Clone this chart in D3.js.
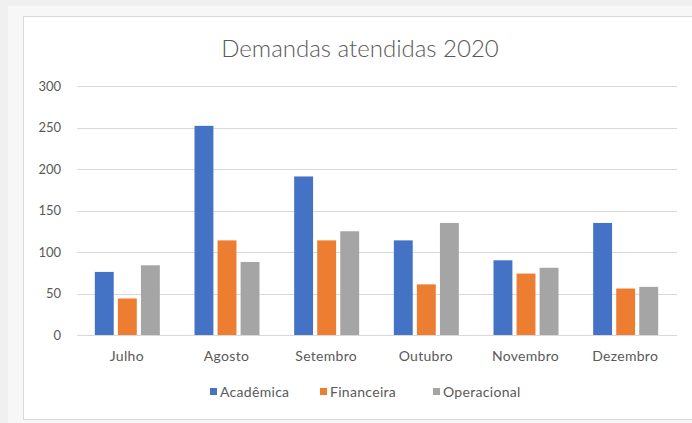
<!DOCTYPE html>
<html><head><meta charset="utf-8">
<script src="https://cdn.jsdelivr.net/npm/d3@7"></script>
<style>
html,body{margin:0;padding:0;background:#f0f0f0;}
svg{display:block;}
text{font-family:Lato, "Open Sans", sans-serif;fill:#595959;}
</style></head>
<body>
<svg id="c" width="692" height="423"></svg>
<script>
const categories = ["Julho","Agosto","Setembro","Outubro","Novembro","Dezembro"];
const seriesNames = ["Acadêmica","Financeira","Operacional"];
const academica = [76, 252, 191, 114, 90, 135];
const financeira = [44, 114, 114, 61, 74, 56];
const operacional = [84, 88, 125, 135, 81, 58];
const yTicks = [0, 50, 100, 150, 200, 250, 300];
const colors = ["#4472C4", "#ED7D31", "#A5A5A5"];
const title = "Demandas atendidas 2020";

const seriesValues = [academica, financeira, operacional];
const svg = d3.select("#c");

// background panels
svg.append("rect").attr("x",8).attr("y",6).attr("width",684).attr("height",417).attr("fill","#f7f7f7");
svg.append("rect").attr("x",23.5).attr("y",16.5).attr("width",680).attr("height",403).attr("fill","#ffffff").attr("stroke","#d9d9d9");

const x = d3.scaleBand().domain(categories).range([77, 675]);
const y = d3.scaleLinear().domain([0, 300]).range([335, 86]);
const inner = d3.scaleBand().domain(seriesNames).range([-32, 33]).paddingInner(0.18);

// gridlines
svg.append("g").selectAll("line").data(yTicks).join("line")
  .attr("x1",77).attr("x2",677)
  .attr("y1",d=>Math.round(y(d))+0.5).attr("y2",d=>Math.round(y(d))+0.5)
  .attr("stroke","#d9d9d9").attr("stroke-width",1);

// y axis labels
const yAxis = d3.axisLeft(y).tickValues(yTicks).tickSize(0).tickPadding(0);
const gy = svg.append("g").attr("transform","translate(61,0)").call(yAxis);
gy.select(".domain").remove();
gy.selectAll("text").style("font-size","13px").attr("fill","#595959").style("font-family","Lato, sans-serif");

// bars
const groups = svg.append("g").selectAll("g").data(seriesNames).join("g").attr("fill",(d,i)=>colors[i]);
groups.selectAll("rect").data((s,i)=>categories.map((c,j)=>({c, s, v: seriesValues[i][j]})))
  .join("rect")
  .attr("x", d => x(d.c) + x.bandwidth()/2 + inner(d.s))
  .attr("width", inner.bandwidth())
  .attr("y", d => y(d.v))
  .attr("height", d => y(0) - y(d.v));

// x axis labels
const xAxis = d3.axisBottom(x).tickSize(0).tickPadding(0);
const gx = svg.append("g").attr("transform","translate(0,351)").call(xAxis);
gx.select(".domain").remove();
gx.selectAll("text").style("font-size","14px").style("letter-spacing","0.3px").attr("fill","#595959").style("font-family","Lato, sans-serif");

// title
svg.append("text").attr("x",360).attr("y",57).attr("text-anchor","middle")
  .style("font-size","24px").style("font-weight","300").text(title);

// legend
const legendX = [210, 320, 433];
const lg = svg.append("g").selectAll("g").data(seriesNames).join("g")
  .attr("transform",(d,i)=>`translate(${legendX[i]},388)`);
lg.append("rect").attr("width",7).attr("height",7).attr("fill",(d,i)=>colors[i]);
lg.append("text").attr("x",10).attr("y",9).style("font-size","14px").style("letter-spacing","0.3px").text(d=>d);
</script>
</body></html>
